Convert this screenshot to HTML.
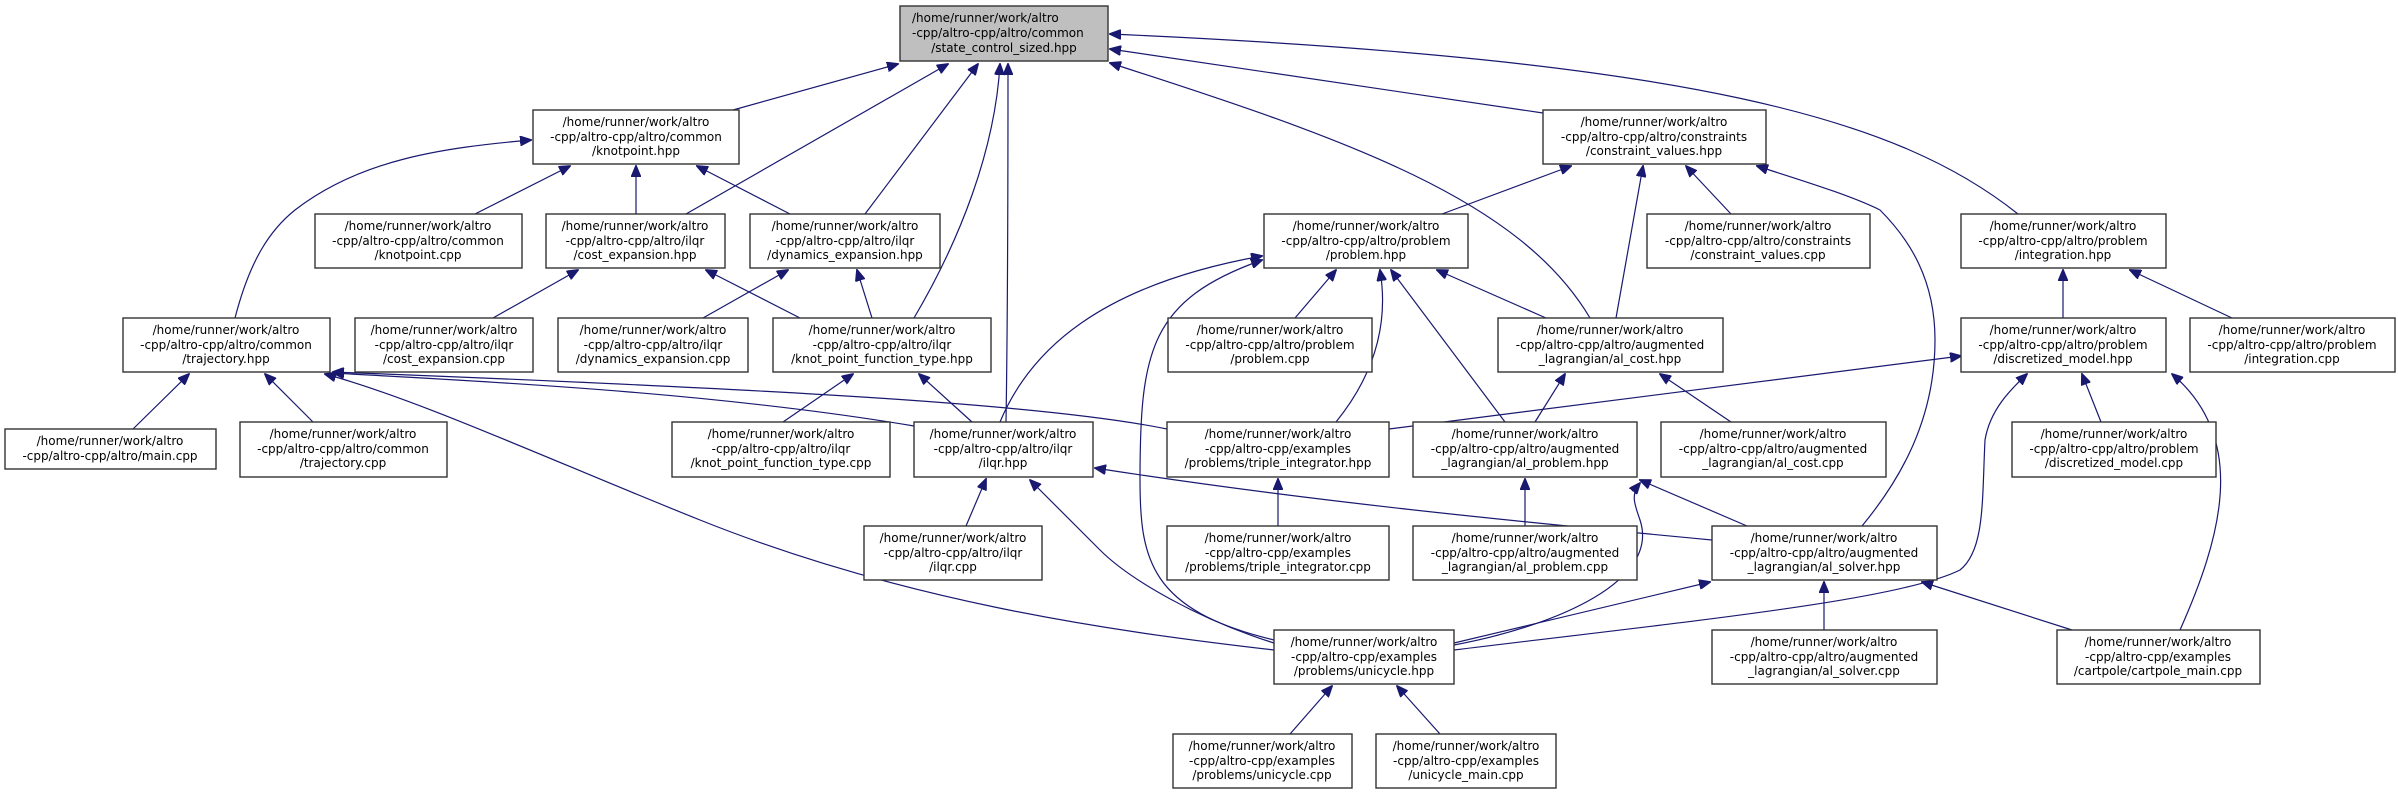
<!DOCTYPE html>
<html><head><meta charset="utf-8"><style>
html,body{margin:0;padding:0;background:#fff;}
svg{display:block;}
text{font-family:"DejaVu Sans","Liberation Sans",sans-serif;font-size:12px;fill:#000;}
.b{fill:#fff;stroke:#333;stroke-width:1.4;}
.e{fill:none;stroke:#191970;stroke-width:1.2;marker-end:url(#a);}
</style></head><body>
<svg width="2398" height="795" viewBox="0 0 2398 795" xmlns="http://www.w3.org/2000/svg">
<defs><marker id="a" markerUnits="userSpaceOnUse" markerWidth="12" markerHeight="10" refX="11" refY="5" orient="auto"><path d="M0,0 L12,5 L0,10 z" fill="#191970" stroke="#191970"/></marker></defs>

<!-- edges to root -->
<path class="e" d="M733,110 L898,64"/>
<path class="e" d="M686,214 L948,64"/>
<path class="e" d="M865,214 L978,64"/>
<path class="e" d="M914,318 C960,240 995,150 1000,64"/>
<path class="e" d="M1006,422 C1008,300 1008,150 1008,64"/>
<path class="e" d="M1590,318 C1520,200 1350,140 1110,63"/>
<path class="e" d="M1543,113 L1110,49"/>
<path class="e" d="M2018,214 C1900,120 1700,60 1110,34"/>
<!-- knotpoint -->
<path class="e" d="M475,214 L570,166"/>
<path class="e" d="M636,214 L636,166"/>
<path class="e" d="M790,214 L697,166"/>
<path class="e" d="M235,318 C250,260 270,230 295,210 C360,160 440,148 531,140"/>
<!-- cost/dyn expansion -->
<path class="e" d="M493,318 L578,270"/>
<path class="e" d="M800,318 L706,270"/>
<path class="e" d="M703,318 L788,270"/>
<path class="e" d="M872,318 L857,270"/>
<!-- kpft -->
<path class="e" d="M783,422 L853,374"/>
<path class="e" d="M972,422 L919,374"/>
<!-- trajectory -->
<path class="e" d="M133,429 L189,374"/>
<path class="e" d="M313,422 L265,374"/>
<path class="e" d="M914,426 C700,390 450,380 333,373"/>
<path class="e" d="M1167,429 C1050,405 800,390 333,372"/>
<path class="e" d="M1274,650 C1100,630 900,600 700,520 C550,460 420,400 325,374"/>
<!-- ilqr -->
<path class="e" d="M966,526 L986,479"/>
<path class="e" d="M1274,643 C1200,620 1130,580 1100,550 C1070,520 1050,500 1030,480"/>
<path class="e" d="M1712,540 C1500,520 1300,500 1095,468"/>
<!-- problem -->
<path class="e" d="M1295,318 L1336,270"/>
<path class="e" d="M1000,422 C1030,350 1100,285 1262,256"/>
<path class="e" d="M1274,640 C1150,610 1140,560 1140,480 C1140,350 1150,300 1262,260"/>
<path class="e" d="M1336,422 C1370,380 1390,330 1380,270"/>
<path class="e" d="M1505,422 L1391,270"/>
<path class="e" d="M1546,318 L1437,270"/>
<!-- constraint_values -->
<path class="e" d="M1442,214 L1571,166"/>
<path class="e" d="M1616,318 L1643,166"/>
<path class="e" d="M1731,214 L1686,166"/>
<path class="e" d="M1862,526 C1900,480 1935,420 1935,340 C1935,280 1910,240 1880,210 C1850,195 1800,180 1757,166"/>
<!-- integration -->
<path class="e" d="M2063,318 L2063,270"/>
<path class="e" d="M2232,318 L2130,270"/>
<!-- discretized_model -->
<path class="e" d="M1389,429 L1961,356"/>
<path class="e" d="M1454,650 C1700,620 1900,600 1960,570 C1985,550 1982,500 1985,440 C1990,410 2010,390 2027,374"/>
<path class="e" d="M2101,422 L2082,374"/>
<path class="e" d="M2180,630 C2220,540 2250,440 2172,374"/>
<!-- al_cost -->
<path class="e" d="M1535,422 L1565,374"/>
<path class="e" d="M1731,422 L1660,374"/>
<!-- al_problem -->
<path class="e" d="M1525,526 L1525,479"/>
<path class="e" d="M1747,526 L1640,480"/>
<path class="e" d="M1454,645 C1560,625 1660,580 1640,520 C1635,505 1630,495 1640,483"/>
<!-- al_solver -->
<path class="e" d="M1454,643 L1710,582"/>
<path class="e" d="M1824,630 L1824,582"/>
<path class="e" d="M2072,630 L1922,582"/>
<!-- triple_integrator -->
<path class="e" d="M1278,526 L1278,479"/>
<!-- unicycle -->
<path class="e" d="M1290,734 L1332,686"/>
<path class="e" d="M1440,734 L1397,686"/>

<!-- nodes -->
<g>
<rect x="900" y="6" width="208" height="55" fill="#bfbfbf" stroke="#333" stroke-width="1.4"/>
<text x="912" y="22">/home/runner/work/altro</text><text x="912" y="37">-cpp/altro-cpp/altro/common</text><text x="1004" y="52" text-anchor="middle">/state_control_sized.hpp</text>
</g>
<g text-anchor="middle">
<rect class="b" x="533" y="110" width="206" height="54"/>
<text x="636" y="126">/home/runner/work/altro</text><text x="636" y="141">-cpp/altro-cpp/altro/common</text><text x="636" y="155">/knotpoint.hpp</text>

<rect class="b" x="1543" y="110" width="223" height="54"/>
<text x="1654" y="126">/home/runner/work/altro</text><text x="1654" y="141">-cpp/altro-cpp/altro/constraints</text><text x="1654" y="155">/constraint_values.hpp</text>

<rect class="b" x="315" y="214" width="207" height="54"/>
<text x="418" y="230">/home/runner/work/altro</text><text x="418" y="245">-cpp/altro-cpp/altro/common</text><text x="418" y="259">/knotpoint.cpp</text>

<rect class="b" x="546" y="214" width="179" height="54"/>
<text x="635" y="230">/home/runner/work/altro</text><text x="635" y="245">-cpp/altro-cpp/altro/ilqr</text><text x="635" y="259">/cost_expansion.hpp</text>

<rect class="b" x="750" y="214" width="190" height="54"/>
<text x="845" y="230">/home/runner/work/altro</text><text x="845" y="245">-cpp/altro-cpp/altro/ilqr</text><text x="845" y="259">/dynamics_expansion.hpp</text>

<rect class="b" x="1264" y="214" width="204" height="54"/>
<text x="1366" y="230">/home/runner/work/altro</text><text x="1366" y="245">-cpp/altro-cpp/altro/problem</text><text x="1366" y="259">/problem.hpp</text>

<rect class="b" x="1647" y="214" width="223" height="54"/>
<text x="1758" y="230">/home/runner/work/altro</text><text x="1758" y="245">-cpp/altro-cpp/altro/constraints</text><text x="1758" y="259">/constraint_values.cpp</text>

<rect class="b" x="1961" y="214" width="205" height="54"/>
<text x="2063" y="230">/home/runner/work/altro</text><text x="2063" y="245">-cpp/altro-cpp/altro/problem</text><text x="2063" y="259">/integration.hpp</text>

<rect class="b" x="123" y="318" width="207" height="54"/>
<text x="226" y="334">/home/runner/work/altro</text><text x="226" y="349">-cpp/altro-cpp/altro/common</text><text x="226" y="363">/trajectory.hpp</text>

<rect class="b" x="355" y="318" width="178" height="54"/>
<text x="444" y="334">/home/runner/work/altro</text><text x="444" y="349">-cpp/altro-cpp/altro/ilqr</text><text x="444" y="363">/cost_expansion.cpp</text>

<rect class="b" x="558" y="318" width="190" height="54"/>
<text x="653" y="334">/home/runner/work/altro</text><text x="653" y="349">-cpp/altro-cpp/altro/ilqr</text><text x="653" y="363">/dynamics_expansion.cpp</text>

<rect class="b" x="773" y="318" width="218" height="54"/>
<text x="882" y="334">/home/runner/work/altro</text><text x="882" y="349">-cpp/altro-cpp/altro/ilqr</text><text x="882" y="363">/knot_point_function_type.hpp</text>

<rect class="b" x="1168" y="318" width="204" height="54"/>
<text x="1270" y="334">/home/runner/work/altro</text><text x="1270" y="349">-cpp/altro-cpp/altro/problem</text><text x="1270" y="363">/problem.cpp</text>

<rect class="b" x="1498" y="318" width="225" height="54"/>
<text x="1610" y="334">/home/runner/work/altro</text><text x="1610" y="349">-cpp/altro-cpp/altro/augmented</text><text x="1610" y="363">_lagrangian/al_cost.hpp</text>

<rect class="b" x="1961" y="318" width="205" height="54"/>
<text x="2063" y="334">/home/runner/work/altro</text><text x="2063" y="349">-cpp/altro-cpp/altro/problem</text><text x="2063" y="363">/discretized_model.hpp</text>

<rect class="b" x="2190" y="318" width="205" height="54"/>
<text x="2292" y="334">/home/runner/work/altro</text><text x="2292" y="349">-cpp/altro-cpp/altro/problem</text><text x="2292" y="363">/integration.cpp</text>

<rect class="b" x="5" y="429" width="211" height="40"/>
<text x="110" y="445">/home/runner/work/altro</text><text x="110" y="460">-cpp/altro-cpp/altro/main.cpp</text>

<rect class="b" x="240" y="422" width="207" height="55"/>
<text x="343" y="438">/home/runner/work/altro</text><text x="343" y="453">-cpp/altro-cpp/altro/common</text><text x="343" y="467">/trajectory.cpp</text>

<rect class="b" x="672" y="422" width="218" height="55"/>
<text x="781" y="438">/home/runner/work/altro</text><text x="781" y="453">-cpp/altro-cpp/altro/ilqr</text><text x="781" y="467">/knot_point_function_type.cpp</text>

<rect class="b" x="914" y="422" width="179" height="55"/>
<text x="1003" y="438">/home/runner/work/altro</text><text x="1003" y="453">-cpp/altro-cpp/altro/ilqr</text><text x="1003" y="467">/ilqr.hpp</text>

<rect class="b" x="1167" y="422" width="222" height="55"/>
<text x="1278" y="438">/home/runner/work/altro</text><text x="1278" y="453">-cpp/altro-cpp/examples</text><text x="1278" y="467">/problems/triple_integrator.hpp</text>

<rect class="b" x="1413" y="422" width="224" height="55"/>
<text x="1525" y="438">/home/runner/work/altro</text><text x="1525" y="453">-cpp/altro-cpp/altro/augmented</text><text x="1525" y="467">_lagrangian/al_problem.hpp</text>

<rect class="b" x="1661" y="422" width="225" height="55"/>
<text x="1773" y="438">/home/runner/work/altro</text><text x="1773" y="453">-cpp/altro-cpp/altro/augmented</text><text x="1773" y="467">_lagrangian/al_cost.cpp</text>

<rect class="b" x="2012" y="422" width="204" height="55"/>
<text x="2114" y="438">/home/runner/work/altro</text><text x="2114" y="453">-cpp/altro-cpp/altro/problem</text><text x="2114" y="467">/discretized_model.cpp</text>

<rect class="b" x="864" y="526" width="178" height="54"/>
<text x="953" y="542">/home/runner/work/altro</text><text x="953" y="557">-cpp/altro-cpp/altro/ilqr</text><text x="953" y="571">/ilqr.cpp</text>

<rect class="b" x="1167" y="526" width="222" height="54"/>
<text x="1278" y="542">/home/runner/work/altro</text><text x="1278" y="557">-cpp/altro-cpp/examples</text><text x="1278" y="571">/problems/triple_integrator.cpp</text>

<rect class="b" x="1413" y="526" width="224" height="54"/>
<text x="1525" y="542">/home/runner/work/altro</text><text x="1525" y="557">-cpp/altro-cpp/altro/augmented</text><text x="1525" y="571">_lagrangian/al_problem.cpp</text>

<rect class="b" x="1712" y="526" width="225" height="54"/>
<text x="1824" y="542">/home/runner/work/altro</text><text x="1824" y="557">-cpp/altro-cpp/altro/augmented</text><text x="1824" y="571">_lagrangian/al_solver.hpp</text>

<rect class="b" x="1274" y="630" width="180" height="54"/>
<text x="1364" y="646">/home/runner/work/altro</text><text x="1364" y="661">-cpp/altro-cpp/examples</text><text x="1364" y="675">/problems/unicycle.hpp</text>

<rect class="b" x="1712" y="630" width="225" height="54"/>
<text x="1824" y="646">/home/runner/work/altro</text><text x="1824" y="661">-cpp/altro-cpp/altro/augmented</text><text x="1824" y="675">_lagrangian/al_solver.cpp</text>

<rect class="b" x="2057" y="630" width="203" height="54"/>
<text x="2158" y="646">/home/runner/work/altro</text><text x="2158" y="661">-cpp/altro-cpp/examples</text><text x="2158" y="675">/cartpole/cartpole_main.cpp</text>

<rect class="b" x="1173" y="734" width="179" height="54"/>
<text x="1262" y="750">/home/runner/work/altro</text><text x="1262" y="765">-cpp/altro-cpp/examples</text><text x="1262" y="779">/problems/unicycle.cpp</text>

<rect class="b" x="1376" y="734" width="180" height="54"/>
<text x="1466" y="750">/home/runner/work/altro</text><text x="1466" y="765">-cpp/altro-cpp/examples</text><text x="1466" y="779">/unicycle_main.cpp</text>
</g>
</svg>
</body></html>
